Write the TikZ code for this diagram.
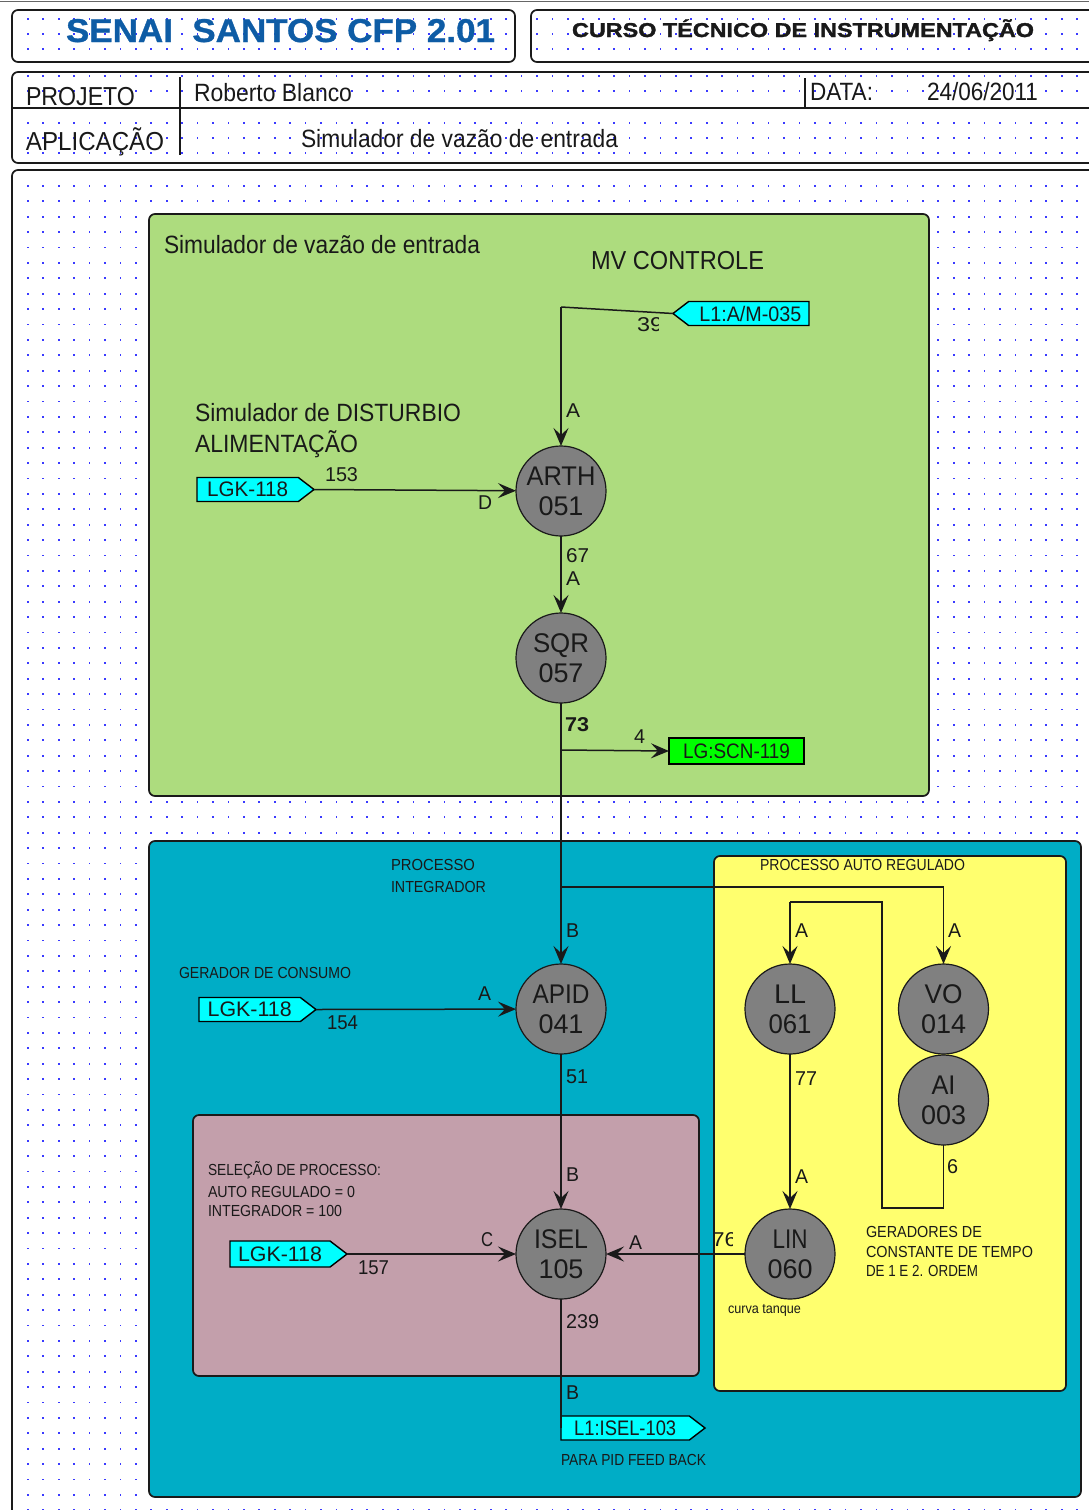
\documentclass[tikz,border=0pt]{standalone}
\usepackage{fontspec}
\usepackage{graphicx}
\setmainfont{Liberation Sans}
\usetikzlibrary{arrows.meta,shapes.symbols}
\definecolor{cgreen}{HTML}{ADDC7E}
\definecolor{cteal}{HTML}{00ADC6}
\definecolor{cyell}{HTML}{FFFF6E}
\definecolor{cpink}{HTML}{C39FAB}
\definecolor{ctag}{HTML}{00FFFF}
\definecolor{cgtag}{HTML}{00FF00}
\definecolor{ctitle}{HTML}{0E5CA5}
\definecolor{cdot}{HTML}{3A3AFF}
\definecolor{cline}{HTML}{1A1A1A}
\newcommand{\fw}[2]{\resizebox{#1pt}{\height}{#2}}
\newcommand{\lab}[6]{\node[lbl] (#1) at (#2,#3) {\fontsize{#5}{#5}\selectfont\fw{#4}{#6}};}
\newcommand{\dotrow}[1]{\foreach \c in {0,...,69}{\fill[dotpat] (27+\c*15.43,#1) rectangle +(1.7,1.7);}}
\tikzset{
  lbl/.style={anchor=base west,inner sep=0pt,outer sep=0pt,text=black!90},
  panel/.style={draw=cline,line width=1.7pt,rounded corners=6pt},
  lnk/.style={draw=cline,line width=1.5pt},
  arr/.style={lnk,-{Stealth[length=18pt,width=15pt,inset=7pt,line width=2pt]}},
  fb/.style={circle,draw=cline,fill=black!50,line width=1.2pt,minimum size=90pt,inner sep=0pt,outer sep=0pt,align=center,
     font=\fontsize{27}{30}\selectfont,text=black!90},
  tagbox/.style={signal,draw=black,line width=1.4pt,inner sep=0pt,outer sep=0pt,minimum height=24pt,
     signal pointer angle=75,font=\fontsize{21}{21}\selectfont,text=black!90},
  dotpat/.style={fill=cdot}
}
\begin{document}
\begin{tikzpicture}[x=1pt,y=-1pt]
\useasboundingbox (0,0) rectangle (1089,1510);
\clip (0,0) rectangle (1089,1510);
\fill[white] (0,0) rectangle (1089,1510);
\draw[black!60,line width=1.5pt] (0,1.5) -- (1089,1.5);
% dots
\foreach \r in {18,33,48,75,90,122,137,152}{\dotrow{\r}}
\fill[white] (515.5,5) rectangle (529.5,66);
\foreach \r in {0,...,87}{\dotrow{185+\r*15.4}}
% frames
\draw[panel] (12,10) rectangle (515,62);
\draw[panel] (531,10) rectangle (1110,62);
\draw[panel] (12,72) rectangle (1110,163);
\draw[panel] (12,170) rectangle (1110,1530);
\coordinate (h1l) at (12,108);
\coordinate (h1r) at (1089,108);
\coordinate (v1t) at (180,77);
\coordinate (v1b) at (180,155);
\coordinate (v2t) at (805,78);
\coordinate (v2b) at (805,108);
\draw[lnk] (h1l) -- (h1r);
\draw[lnk] (v1t) -- (v1b);
\draw[lnk] (v2t) -- (v2b);
% panels
\draw[panel,fill=cgreen] (149,214) rectangle (929,796);
\draw[panel,fill=cteal] (149,841) rectangle (1081,1497);
\draw[panel,fill=cyell] (714,856) rectangle (1066,1391);
\draw[panel,fill=cpink] (193,1115) rectangle (699,1376);
% header text
\lab{ttl}{66}{42}{429}{33}{\addfontfeature{FakeBold=1}\color{ctitle}\bfseries SENAI\ \ SANTOS CFP 2.01}
\lab{crs}{572}{37}{462}{20}{\bfseries\addfontfeature{FakeBold=1.5}CURSO TÉCNICO DE INSTRUMENTAÇÃO}
\lab{prj}{26}{105}{109}{26}{PROJETO}
\lab{rob}{194}{101}{158}{25}{Roberto Blanco}
\lab{dat}{810}{100.5}{63}{25}{DATA:}
\lab{dte}{927}{100.5}{111}{25}{24/06/2011}
\lab{apl}{26}{150.5}{138}{26}{APLICAÇÃO}
\lab{sim}{301}{147}{317}{25}{Simulador de vazão de entrada}
% function blocks
\node[fb] (arth) at (561,491) {\fw{69}{ARTH}\\\fw{45}{051}};
\node[fb] (sqr) at (561,658) {\fw{56}{SQR}\\\fw{45}{057}};
\node[fb] (apid) at (561,1009) {\fw{57}{APID}\\\fw{45}{041}};
\node[fb] (isel) at (561,1254) {\fw{54}{ISEL}\\\fw{45}{105}};
\node[fb] (lin) at (790,1254) {\fw{35}{LIN}\\\fw{45}{060}};
\node[fb] (ll) at (790,1009) {\fw{32}{LL}\\\fw{43}{061}};
\node[fb] (vo) at (943.5,1009) {\fw{38}{VO}\\\fw{45}{014}};
\node[fb] (ai) at (943.5,1100) {\fw{24}{AI}\\\fw{45}{003}};
% tags
\node[tagbox,fill=ctag,signal to=west,minimum width=136pt,anchor=east] (tmv) at (809,313.5) {\hspace{3pt}\fw{102}{L1:A/M-035}};
\node[tagbox,fill=ctag,signal to=east,minimum width=117pt,anchor=west] (tdist) at (197,489.5) {\fw{81}{LGK-118}};
\node[tagbox,fill=cgtag,signal to=nowhere,minimum width=135pt,minimum height=26pt,anchor=west] (tscn) at (669,751) {\fw{107}{LG:SCN-119}};
\node[tagbox,fill=ctag,signal to=east,minimum width=117pt,anchor=west] (tcons) at (199,1009.5) {\fw{84}{LGK-118}};
\node[tagbox,fill=ctag,signal to=east,minimum width=117pt,minimum height=26pt,anchor=west] (tsel) at (230,1254) {\fw{84}{LGK-118}};
\node[tagbox,fill=ctag,signal to=east,minimum width=144pt,anchor=west] (tout) at (561,1428) {\fw{102}{L1:ISEL-103}};
% connectors
\coordinate (c1) at (561,307);
\coordinate (b1) at (561,750);
\coordinate (b2) at (561,887);
\coordinate (b3) at (943.5,887);
\coordinate (f1) at (943.5,1208);
\coordinate (f2) at (882,1208);
\coordinate (f3) at (882,902);
\coordinate (f4) at (790,902);
\draw[lnk] (tmv.west) -- (c1);
\draw[arr] (c1) -- (arth);
\draw[arr] (tdist.east) -- (arth);
\draw[arr] (arth) -- (sqr);
\draw[arr] (sqr) -- (apid);
\draw[arr] (b1) -- (tscn.west);
\draw[lnk] (b2) -- (b3);
\draw[arr] (b3) -- (vo);
\draw[arr] (tcons.east) -- (apid);
\draw[arr] (apid) -- (isel);
\draw[arr] (tsel.east) -- (isel);
\draw[arr] (lin) -- (isel);
\draw[arr] (ll) -- (lin);
\draw[lnk] (ai) -- (f1) -- (f2) -- (f3) -- (f4);
\draw[arr] (f4) -- (ll);
\draw[lnk] (isel) -- (tout.west);
% green panel text
\lab{gt1}{164}{253}{316}{25}{Simulador de vazão de entrada}
\lab{gt2}{591}{269}{173}{26}{MV CONTROLE}
\lab{gt3}{195}{421}{266}{25}{Simulador de DISTURBIO}
\lab{gt4}{195}{452}{163}{25}{ALIMENTAÇÃO}
\begin{scope}
\clip (630,310) rectangle (658,335);
\lab{n39}{637}{331}{26}{20}{39}
\end{scope}
\lab{a1}{566}{417}{14}{20}{A}
\lab{n153}{325}{481}{33}{20}{153}
\lab{d1}{478}{509}{14}{20}{D}
\lab{n67}{566}{562}{23}{20}{67}
\lab{a2}{566}{585}{14}{20}{A}
\lab{n73}{565}{731}{24}{20}{\bfseries 73}
\lab{n4}{634}{743}{11}{20}{4}
% teal panel text
\lab{p1}{391}{870}{84}{16}{PROCESSO}
\lab{p2}{391}{892}{95}{16}{INTEGRADOR}
\lab{p3}{760}{870}{205}{16}{PROCESSO AUTO REGULADO}
\lab{b4}{566}{937}{13}{20}{B}
\lab{a3}{795}{937}{13}{20}{A}
\lab{a4}{948}{937}{13}{20}{A}
\lab{gc}{179}{978}{172}{16}{GERADOR DE CONSUMO}
\lab{n154}{327}{1029}{31}{20}{154}
\lab{a5}{478}{1000}{13}{20}{A}
\lab{n51}{566}{1083}{22}{20}{51}
\lab{n77}{795}{1085}{22}{20}{77}
\lab{s1}{208}{1175}{173}{16}{SELEÇÃO DE PROCESSO:}
\lab{s2}{208}{1197}{147}{16}{AUTO REGULADO = 0}
\lab{s3}{208}{1216}{134}{16}{INTEGRADOR = 100}
\lab{n157}{358}{1274}{31}{20}{157}
\lab{c2}{481}{1246}{12}{20}{C}
\lab{a6}{629}{1249}{13}{20}{A}
\lab{b5}{566}{1181}{13}{20}{B}
\lab{a7}{795}{1183}{13}{20}{A}
\begin{scope}
\clip (705,1225) rectangle (732,1252);
\lab{n76}{712}{1246}{25}{20}{76}
\end{scope}
\lab{n6}{947}{1173}{11}{20}{6}
\lab{cv}{728}{1313}{73}{14}{curva tanque}
\lab{n239}{566}{1328}{33}{20}{239}
\lab{b6}{566}{1399}{13}{20}{B}
\lab{pf}{561}{1465}{145}{16}{PARA PID FEED BACK}
\lab{g1}{866}{1237}{116}{16}{GERADORES DE}
\lab{g2}{866}{1257}{167}{16}{CONSTANTE DE TEMPO}
\lab{g3}{866}{1276}{112}{16}{DE 1 E 2. ORDEM}
\end{tikzpicture}
\end{document}
